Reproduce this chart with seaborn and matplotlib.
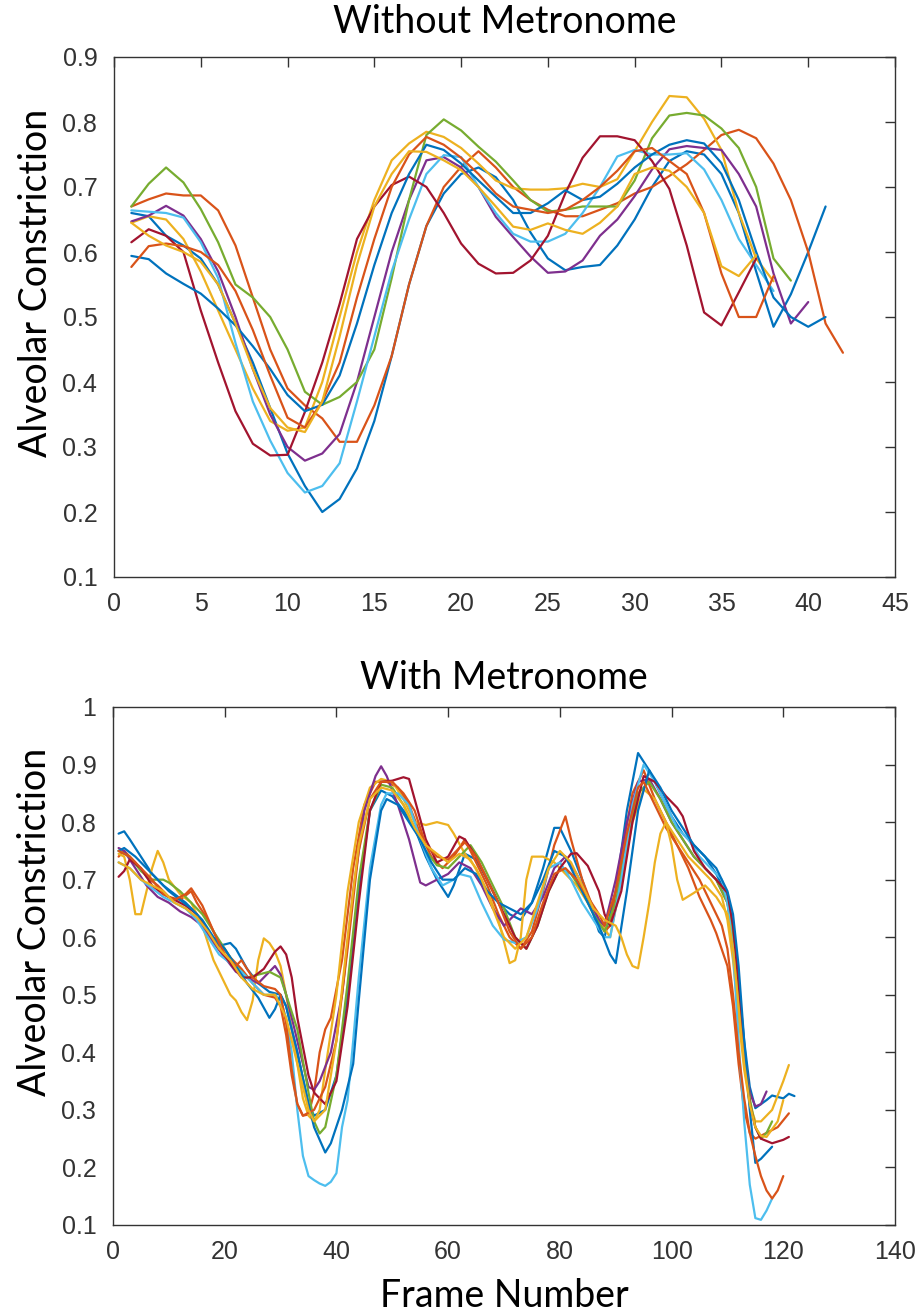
import matplotlib
matplotlib.use("Agg")
import matplotlib.pyplot as plt
import seaborn as sns

# MATLAB default line colours
BLUE = "#0072BD"
ORANGE = "#D95319"
YELLOW = "#EDB120"
PURPLE = "#7E2F8E"
GREEN = "#77AC30"
LBLUE = "#4DBEEE"
DRED = "#A2142F"

# ---------- Without Metronome (one value per frame, starting at frame 1) ----------
wo_blue1 = [.66, .655, .625, .61, .59, .55, .49, .43, .36, .29, .24, .20, .22, .267, .34, .44,
            .55, .64, .69, .72, .73, .715, .68, .63, .59, .572, .577, .58, .61, .65, .70, .74,
            .755, .75, .72, .66, .57, .485, .535, .60, .67]
wo_orange1 = [.67, .681, .69, .687, .687, .664, .61, .53, .45, .39, .364, .344, .308, .308, .364,
              .44, .55, .64, .70, .731, .755, .73, .70, .68, .665, .655, .655, .665, .675, .69,
              .70, .717, .735, .757, .78, .788, .775, .736, .68, .60, .49, .445]
wo_yellow1 = [.645, .655, .65, .62, .57, .51, .45, .39, .34, .325, .33, .40, .50, .60, .68, .741,
              .767, .785, .777, .76, .736, .71, .698, .696, .696, .698, .705, .70, .712, .755,
              .80, .84, .838, .805, .757, .66, .59, .555]
wo_purple = [.647, .656, .671, .656, .62, .57, .50, .42, .35, .30, .279, .29, .32, .40, .50, .60,
             .68, .741, .746, .73, .70, .654, .623, .593, .568, .57, .587, .625, .65, .686, .727,
             .758, .763, .76, .757, .72, .67, .567, .49, .523]
wo_green = [.67, .705, .73, .707, .666, .615, .55, .53, .50, .45, .385, .365, .377, .40, .45, .56,
            .68, .78, .804, .787, .762, .739, .71, .68, .662, .665, .67, .67, .67, .71, .775, .81,
            .814, .81, .79, .76, .70, .59, .556]
wo_lblue = [.664, .662, .66, .653, .615, .56, .46, .37, .31, .26, .23, .24, .275, .37, .47, .57,
            .65, .72, .749, .746, .70, .66, .628, .616, .616, .628, .66, .70, .747, .757, .75,
            .75, .752, .727, .68, .62, .58, .54]
wo_dred = [.615, .635, .625, .60, .51, .43, .355, .305, .287, .288, .354, .43, .52, .62, .67, .703,
           .716, .70, .66, .613, .582, .567, .568, .587, .625, .69, .745, .778, .778, .772, .74,
           .697, .61, .507, .487, .538, .59]
wo_blue2 = [.594, .589, .567, .551, .536, .513, .487, .455, .42, .38, .355, .365, .41, .49, .58,
            .66, .72, .765, .757, .736, .71, .685, .66, .66, .675, .695, .68, .685, .705, .73, .75,
            .765, .772, .767, .737, .68, .60, .53, .50, .485, .50]
wo_orange2 = [.577, .609, .613, .609, .60, .58, .54, .48, .41, .345, .33, .37, .43, .53, .62, .70,
              .75, .777, .765, .745, .72, .69, .67, .665, .66, .665, .68, .70, .725, .755, .76,
              .74, .72, .66, .567, .50, .50, .563]
wo_yellow2 = [.645, .625, .61, .60, .585, .55, .49, .42, .36, .33, .323, .37, .47, .58, .67, .72,
              .755, .754, .741, .726, .70, .67, .639, .634, .644, .634, .628, .645, .67, .72, .73,
              .725, .70, .66, .578, .563, .595]

without_lines = [(wo_blue1, BLUE), (wo_orange1, ORANGE), (wo_yellow1, YELLOW), (wo_purple, PURPLE),
                 (wo_green, GREEN), (wo_lblue, LBLUE), (wo_dred, DRED), (wo_blue2, BLUE),
                 (wo_orange2, ORANGE), (wo_yellow2, YELLOW)]

# ---------- With Metronome ((frame, value) pairs) ----------
wm_blue1 = [(1, .78), (2, .784), (3, .77), (5, .74), (7, .71), (9, .69), (11, .675), (13, .66), (15, .64),
            (17, .61), (19, .585), (21, .59), (22, .58), (24, .545), (26, .52), (28, .505), (30, .50),
            (31, .48), (33, .40), (35, .31), (36, .29), (38, .30), (40, .36), (42, .50), (44, .68),
            (46, .82), (48, .855), (50, .845), (52, .82), (54, .79), (56, .74), (58, .70), (60, .67),
            (61, .69), (63, .745), (65, .735), (67, .70), (69, .66), (71, .64), (73, .63), (75, .66),
            (77, .72), (79, .79), (80, .79), (82, .75), (84, .70), (86, .64), (87, .61), (88, .60),
            (90, .68), (92, .82), (94, .92), (96, .89), (98, .85), (100, .81), (102, .78), (104, .76),
            (106, .74), (108, .71), (110, .67), (111, .62), (112, .52), (113, .42), (114, .34),
            (115, .303), (117, .317), (118, .325), (120, .32), (121, .328), (122, .324)]
wm_orange1 = [(1, .74), (2, .75), (4, .73), (6, .705), (8, .69), (10, .67), (12, .665), (14, .68), (15, .66),
              (17, .63), (19, .59), (21, .565), (23, .545), (25, .52), (27, .50), (29, .495), (30, .48),
              (31, .43), (32, .36), (33, .31), (34, .29), (35, .292), (36, .33), (37, .40), (38, .44),
              (39, .46), (41, .56), (43, .72), (45, .83), (47, .87), (49, .87), (51, .86), (53, .83),
              (55, .78), (57, .74), (59, .72), (61, .74), (63, .77), (65, .73), (67, .69), (69, .64),
              (71, .60), (73, .58), (75, .61), (77, .68), (79, .76), (81, .81), (82, .77), (84, .70),
              (86, .65), (88, .61), (89, .62), (91, .74), (93, .85), (95, .89), (97, .84), (99, .80),
              (101, .76), (103, .72), (105, .67), (107, .63), (108, .607), (110, .55), (111, .48),
              (112, .38), (113, .30), (114, .26), (115, .25), (117, .26), (119, .27), (121, .294)]
wm_yellow1 = [(1, .745), (2, .74), (3, .70), (4, .64), (5, .64), (6, .68), (7, .72), (8, .75), (9, .73),
              (10, .70), (12, .675), (14, .66), (16, .62), (18, .56), (20, .52), (21, .50), (22, .49),
              (23, .47), (24, .456), (25, .49), (26, .56), (27, .598), (28, .59), (29, .575), (30, .55),
              (31, .50), (32, .44), (33, .38), (34, .32), (35, .29), (36, .28), (37, .30), (38, .37),
              (40, .50), (42, .68), (44, .80), (46, .86), (48, .875), (50, .87), (52, .84), (54, .80),
              (56, .795), (58, .80), (60, .795), (61, .78), (63, .745), (65, .72), (67, .68), (69, .63),
              (71, .555), (72, .56), (73, .60), (74, .70), (75, .74), (77, .74), (79, .73), (81, .71),
              (83, .69), (85, .66), (87, .63), (89, .60), (91, .70), (93, .80), (95, .857), (97, .84),
              (99, .80), (101, .77), (103, .74), (105, .72), (107, .70), (109, .67), (110, .63),
              (111, .56), (112, .46), (113, .37), (114, .31), (115, .28), (116, .28), (118, .30),
              (120, .35), (121, .378)]
wm_purple = [(1, .755), (2, .75), (4, .72), (6, .69), (8, .67), (10, .66), (12, .645), (14, .635), (16, .62),
             (18, .59), (20, .565), (22, .54), (24, .53), (26, .52), (28, .54), (29, .55), (30, .535),
             (31, .50), (33, .42), (35, .34), (36, .335), (37, .35), (39, .40), (41, .50), (43, .68),
             (45, .82), (47, .88), (48, .897), (49, .88), (51, .83), (53, .77), (55, .695), (56, .69),
             (58, .70), (60, .71), (62, .73), (64, .72), (66, .69), (68, .65), (70, .62), (71, .63),
             (73, .65), (75, .64), (77, .67), (79, .72), (81, .74), (83, .71), (85, .67), (87, .63),
             (88, .62), (90, .70), (92, .80), (94, .87), (96, .875), (98, .84), (100, .80), (102, .77),
             (104, .74), (106, .72), (108, .70), (110, .66), (111, .60), (112, .50), (113, .40),
             (114, .33), (115, .306), (116, .31), (117, .332)]
wm_green = [(1, .75), (3, .74), (5, .715), (7, .70), (9, .70), (10, .695), (12, .68), (14, .66), (16, .64),
            (18, .61), (20, .58), (22, .55), (24, .53), (26, .535), (28, .54), (30, .53), (31, .50),
            (33, .44), (35, .33), (36, .28), (37, .259), (38, .27), (40, .36), (42, .52), (44, .70),
            (46, .82), (48, .865), (50, .86), (52, .83), (54, .79), (56, .75), (58, .725), (60, .72),
            (62, .74), (64, .76), (66, .73), (68, .69), (70, .65), (72, .60), (74, .58), (76, .62),
            (78, .68), (80, .72), (82, .71), (84, .68), (86, .64), (88, .61), (90, .66), (92, .77),
            (94, .85), (96, .87), (98, .84), (100, .80), (102, .77), (104, .74), (106, .72), (108, .70),
            (110, .66), (111, .60), (112, .50), (113, .40), (114, .32), (115, .27), (116, .25),
            (117, .26), (118, .28)]
wm_lblue = [(1, .73), (3, .72), (5, .70), (7, .685), (9, .67), (11, .66), (13, .65), (15, .63), (17, .60),
            (19, .57), (21, .555), (23, .54), (25, .52), (27, .50), (29, .50), (30, .49), (31, .46),
            (32, .40), (33, .30), (34, .22), (35, .185), (36, .178), (37, .172), (38, .168), (39, .175),
            (40, .19), (41, .27), (42, .317), (43, .42), (44, .53), (46, .72), (48, .83), (49, .85),
            (51, .85), (53, .83), (55, .77), (57, .72), (59, .69), (61, .70), (62, .71), (64, .705),
            (66, .66), (68, .62), (70, .596), (72, .59), (74, .60), (76, .65), (78, .72), (80, .73),
            (82, .70), (84, .66), (86, .63), (88, .60), (89, .60), (91, .70), (93, .83), (95, .90),
            (97, .87), (99, .83), (101, .79), (103, .77), (105, .74), (107, .72), (109, .70), (110, .66),
            (111, .58), (112, .42), (113, .28), (114, .17), (115, .112), (116, .109), (117, .125),
            (118, .146)]
wm_dred = [(1, .705), (2, .715), (3, .735), (5, .72), (7, .69), (9, .675), (11, .665), (13, .655), (15, .64),
           (17, .61), (19, .58), (21, .555), (23, .53), (25, .53), (27, .545), (29, .575), (30, .584),
           (31, .57), (32, .53), (33, .46), (35, .36), (36, .33), (38, .31), (40, .35), (42, .48),
           (44, .66), (46, .82), (48, .87), (50, .872), (52, .878), (53, .875), (54, .84), (56, .77),
           (58, .73), (60, .74), (62, .775), (63, .77), (65, .74), (67, .70), (69, .66), (71, .62),
           (72, .60), (74, .58), (76, .62), (78, .68), (80, .72), (82, .745), (83, .746), (85, .724),
           (87, .68), (88, .64), (89, .62), (91, .68), (93, .80), (95, .88), (97, .87), (99, .845),
           (101, .825), (102, .81), (104, .75), (106, .72), (108, .70), (110, .677), (111, .62),
           (112, .52), (113, .40), (114, .31), (115, .27), (116, .25), (118, .242), (120, .248),
           (121, .253)]
wm_blue2 = [(1, .75), (2, .755), (4, .74), (6, .72), (8, .70), (10, .68), (12, .665), (14, .65), (16, .63),
            (18, .60), (20, .58), (22, .55), (24, .52), (26, .495), (28, .46), (29, .475), (30, .50),
            (31, .48), (33, .40), (35, .31), (36, .27), (38, .226), (39, .242), (41, .30), (43, .38),
            (44, .49), (46, .70), (48, .82), (49, .84), (51, .83), (53, .80), (55, .77), (57, .73),
            (59, .70), (61, .70), (63, .72), (65, .71), (67, .68), (69, .66), (71, .65), (73, .64),
            (75, .66), (77, .70), (79, .75), (81, .74), (83, .70), (85, .66), (87, .62), (89, .57),
            (90, .555), (92, .68), (94, .82), (96, .89), (98, .86), (100, .82), (102, .79), (104, .76),
            (106, .74), (108, .72), (110, .68), (111, .64), (112, .55), (113, .42), (114, .30),
            (115, .208), (116, .215), (118, .236)]
wm_orange2 = [(1, .75), (3, .74), (5, .72), (7, .70), (9, .675), (11, .665), (13, .675), (14, .685), (16, .655),
              (18, .61), (20, .57), (22, .55), (23, .56), (25, .53), (27, .515), (29, .51), (30, .50),
              (31, .45), (32, .37), (33, .31), (34, .29), (36, .30), (38, .34), (40, .42), (42, .58),
              (44, .75), (46, .84), (48, .87), (50, .87), (52, .85), (54, .82), (56, .76), (58, .74),
              (60, .735), (62, .755), (63, .765), (65, .74), (67, .70), (69, .66), (71, .61), (73, .58),
              (75, .60), (77, .66), (79, .71), (81, .72), (83, .70), (85, .67), (87, .64), (88, .62),
              (90, .68), (92, .78), (94, .86), (95, .87), (97, .83), (99, .79), (101, .76), (103, .73),
              (105, .70), (107, .66), (109, .62), (110, .58), (111, .50), (112, .40), (113, .32),
              (114, .26), (115, .22), (116, .185), (117, .16), (118, .146), (119, .16), (120, .185)]
wm_yellow2 = [(1, .73), (3, .72), (5, .70), (7, .69), (9, .68), (11, .66), (13, .65), (15, .635), (17, .61),
              (19, .58), (21, .56), (23, .53), (25, .51), (27, .50), (29, .50), (31, .46), (33, .38),
              (35, .30), (36, .28), (38, .30), (40, .42), (42, .60), (44, .76), (46, .84), (48, .86),
              (50, .855), (52, .83), (54, .79), (56, .76), (58, .745), (60, .73), (62, .745), (64, .735),
              (66, .70), (68, .65), (70, .60), (72, .58), (74, .60), (76, .66), (78, .72), (80, .75),
              (82, .73), (84, .69), (86, .65), (88, .63), (90, .62), (91, .60), (92, .57), (93, .55),
              (94, .546), (95, .60), (96, .66), (97, .73), (98, .78), (99, .80), (100, .76), (101, .70),
              (102, .665), (104, .677), (106, .69), (108, .67), (110, .64), (111, .58), (112, .48),
              (113, .38), (114, .31), (115, .27), (116, .255), (117, .253), (119, .28), (120, .317)]

with_lines = [(wm_blue1, BLUE), (wm_orange1, ORANGE), (wm_yellow1, YELLOW), (wm_purple, PURPLE),
              (wm_green, GREEN), (wm_lblue, LBLUE), (wm_dred, DRED), (wm_blue2, BLUE),
              (wm_orange2, ORANGE), (wm_yellow2, YELLOW)]

sns.set_theme(style="white")
plt.rcParams["font.family"] = ["Liberation Sans", "DejaVu Sans"]
AX_COL = "#333333"
LABEL_FONT = "Lato"

fig = plt.figure(figsize=(9.24, 13.14), dpi=100)
ax1 = fig.add_axes([114 / 924, 1 - 577 / 1314, (895 - 114) / 924, (577 - 57) / 1314])
ax2 = fig.add_axes([113 / 924, 1 - 1225 / 1314, (895 - 113) / 924, (1225 - 707) / 1314])

for vals, col in without_lines:
    sns.lineplot(x=list(range(1, len(vals) + 1)), y=vals, ax=ax1, color=col, lw=1.6, sort=False)

for pairs, col in with_lines:
    fr = [p[0] for p in pairs]
    vv = [p[1] for p in pairs]
    sns.lineplot(x=fr, y=vv, ax=ax2, color=col, lw=1.6, sort=False)

ax1.set_xlim(0, 45)
ax1.set_ylim(0.1, 0.9)
ax1.set_xticks(range(0, 46, 5))
ax1.set_yticks([0.1, 0.2, 0.3, 0.4, 0.5, 0.6, 0.7, 0.8, 0.9])
ax1.set_yticklabels(["0.1", "0.2", "0.3", "0.4", "0.5", "0.6", "0.7", "0.8", "0.9"])

ax2.set_xlim(0, 140)
ax2.set_ylim(0.1, 1.0)
ax2.set_xticks(range(0, 141, 20))
ax2.set_yticks([0.1, 0.2, 0.3, 0.4, 0.5, 0.6, 0.7, 0.8, 0.9, 1.0])
ax2.set_yticklabels(["0.1", "0.2", "0.3", "0.4", "0.5", "0.6", "0.7", "0.8", "0.9", "1"])

for ax in (ax1, ax2):
    for sp in ax.spines.values():
        sp.set_visible(True)
        sp.set_color(AX_COL)
        sp.set_linewidth(1.0)
    ax.tick_params(direction="in", top=True, right=True, length=7, width=1.0,
                   color=AX_COL, labelcolor=AX_COL, labelsize=18)
    ax.tick_params(axis="y", pad=12)
    ax.tick_params(axis="x", pad=11)
    ax.set_ylabel("Alveolar Constriction", fontsize=27, family=LABEL_FONT, color="black")
    ax.grid(False)

# the label sits a little above the middle of each panel in the reference
ax1.yaxis.set_label_coords(-0.077, 0.565)
ax2.yaxis.set_label_coords(-0.077, 0.585)

ax1.set_xlabel("")
ax2.set_xlabel("Frame Number", fontsize=27, family=LABEL_FONT, color="black", labelpad=10)
ax1.set_title("Without Metronome", fontsize=27, family=LABEL_FONT, color="black", pad=17)
ax2.set_title("With Metronome", fontsize=27, family=LABEL_FONT, color="black", pad=13)

fig.savefig("out.png", dpi=100)
